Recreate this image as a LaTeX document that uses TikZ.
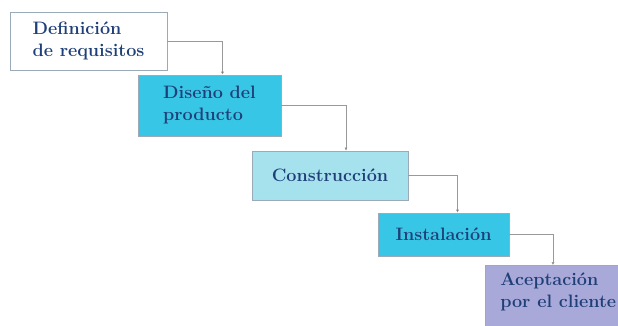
\documentclass[tikz,border=0pt]{standalone}
\usepackage{color}
\usepackage{amsmath}
\usetikzlibrary{arrows.meta}

\definecolor{txtblue}{HTML}{1F3F78}
\definecolor{edgegray}{HTML}{9AAAB8}
\definecolor{cyanbox}{HTML}{38C6E6}
\definecolor{paleblue}{HTML}{A6E2EE}
\definecolor{lavender}{HTML}{A9A9D9}

\begin{document}
\begin{tikzpicture}[x=1pt,y=-1pt,
    etapa/.style={draw=edgegray,line width=0.6pt,text=txtblue,
        font=\fontsize{18}{22}\selectfont\bfseries,align=left,inner sep=0pt},
    flecha/.style={draw=gray!80,line width=0.5pt,-{Latex[length=3pt,width=3pt,fill=black!70]}}]
                \useasboundingbox (0,0) rectangle (618,326);
                \clip (0,0) rectangle (618,326);

                \node[etapa,fill=white,minimum width=157pt,minimum height=58pt] (req) at (88.5,41) {Definición\\de requisitos};
                \node[etapa,fill=cyanbox,minimum width=143pt,minimum height=61pt] (dis) at (209.5,105.5) {Diseño del\\producto};
                \node[etapa,fill=paleblue,minimum width=156pt,minimum height=49pt] (cons) at (330,175.5) {Construcción};
                \node[etapa,fill=cyanbox,minimum width=131pt,minimum height=43pt] (inst) at (443.5,234.5) {Instalación};
                % last box runs off the page
                \node[etapa,fill=lavender,anchor=north west,inner xsep=15pt,inner ysep=8pt] (acep) at (485,265) {Aceptación\\por el cliente\rule[-40pt]{0pt}{0pt}};

                \draw[flecha] (req.east) -| ([xshift=13pt]dis.north);
                \draw[flecha] (dis.east) -| ([xshift=16pt]cons.north);
                \draw[flecha] (cons.east) -| ([xshift=14pt]inst.north);
                \draw[flecha] (inst.east) -| ([xshift=68pt]acep.north west);
            \end{tikzpicture}
\end{document}
